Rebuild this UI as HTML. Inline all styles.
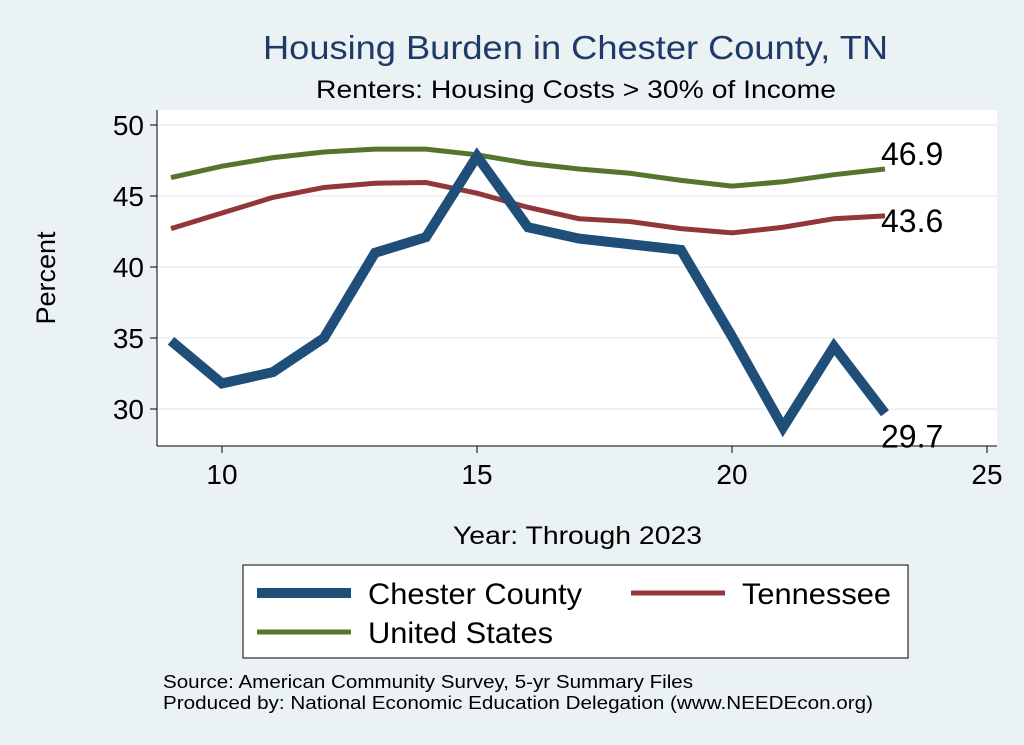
<!DOCTYPE html>
<html><head><meta charset="utf-8"><style>
body{margin:0;background:#eaf2f3;font-family:"Liberation Sans",sans-serif;}
svg{display:block}
</style></head><body>
<svg width="1024" height="745" xmlns="http://www.w3.org/2000/svg">
<rect x="0" y="0" width="1024" height="745" fill="#eaf2f3"/>
<text x="263" y="59" font-size="33" fill="#1f3a68" textLength="625" lengthAdjust="spacingAndGlyphs">Housing Burden in Chester County, TN</text>
<text x="316" y="98" font-size="25" fill="#000" textLength="520" lengthAdjust="spacingAndGlyphs">Renters: Housing Costs &gt; 30% of Income</text>
<rect x="157" y="110" width="840" height="336" fill="#fff"/>
<g id="grid"></g>
<line x1="157" y1="110" x2="157" y2="446" stroke="#000" stroke-width="1"/>
<line x1="157" y1="446" x2="997" y2="446" stroke="#000" stroke-width="1"/>
<g id="yticks"></g>
<g id="xticks"></g>
<g id="series"></g>
<text x="55" y="278" font-size="27" text-anchor="middle" transform="rotate(-90 55 278)">Percent</text>
<text x="453" y="544" font-size="25" textLength="249" lengthAdjust="spacingAndGlyphs">Year: Through 2023</text>
<g>
<rect x="243" y="565" width="665" height="93" fill="#fff" stroke="#000" stroke-width="1"/>
<line x1="257" y1="593" x2="351" y2="593" stroke="#1f4e79" stroke-width="10"/>
<text x="368" y="604" font-size="30" textLength="214" lengthAdjust="spacingAndGlyphs">Chester County</text>
<line x1="631" y1="593" x2="725" y2="593" stroke="#903739" stroke-width="5"/>
<text x="742" y="604" font-size="30" textLength="149" lengthAdjust="spacingAndGlyphs">Tennessee</text>
<line x1="257" y1="632" x2="351" y2="632" stroke="#55752f" stroke-width="5"/>
<text x="368" y="643" font-size="30" textLength="185" lengthAdjust="spacingAndGlyphs">United States</text>
</g>
<text x="163" y="688" font-size="18" textLength="530" lengthAdjust="spacingAndGlyphs">Source: American Community Survey, 5-yr Summary Files</text>
<text x="163" y="709" font-size="18" textLength="710" lengthAdjust="spacingAndGlyphs">Produced by: National Economic Education Delegation (www.NEEDEcon.org)</text>
</svg>
<script>
const years=[9,10,11,12,13,14,15,16,17,18,19,20,21,22,23];
const chester=[34.8,31.8,32.6,35.0,41.0,42.1,47.8,42.8,42.0,41.6,41.2,35.1,28.7,34.4,29.7];
const tennessee=[42.7,43.8,44.9,45.6,45.9,45.95,45.2,44.2,43.4,43.2,42.7,42.4,42.8,43.4,43.6];
const unitedStates=[46.3,47.1,47.7,48.1,48.3,48.3,47.9,47.3,46.9,46.6,46.1,45.7,46.0,46.5,46.9];
const xTicks=[10,15,20,25];
const yTicks=[30,35,40,45,50];
const NS='http://www.w3.org/2000/svg';
const xs=v=>222+(v-10)*51;
const ys=v=>125+(50-v)*14.2;
function mk(tag,attrs,parent){const e=document.createElementNS(NS,tag);for(const k in attrs)e.setAttribute(k,attrs[k]);parent.appendChild(e);return e;}
const grid=document.getElementById('grid'),yt=document.getElementById('yticks'),xt=document.getElementById('xticks'),ser=document.getElementById('series');
yTicks.forEach(v=>{
 const g=mk('line',{x1:157,x2:997,y1:ys(v),y2:ys(v),stroke:'#e8eef0','stroke-width':1.5},grid);
 
 
 const t=mk('line',{x1:150,x2:157,y1:ys(v),y2:ys(v),stroke:'#000'},yt);
 
 
 const l=mk('text',{x:144,y:ys(v)+10,'font-size':28,'text-anchor':'end'},yt);l.textContent=v;
 
 
});
xTicks.forEach(v=>{
 const t=mk('line',{x1:xs(v),x2:xs(v),y1:446,y2:453,stroke:'#000'},xt);
 
 
 const l=mk('text',{x:xs(v),y:484,'font-size':28,'text-anchor':'middle'},xt);l.textContent=v;
 
 
});
function line(vals,color,w,name,dy){
 const d=vals.map((v,i)=>(i?'L':'M')+xs(years[i])+','+ys(v)).join(' ');
 const p=mk('path',{d:d,fill:'none',stroke:color,'stroke-width':w,'stroke-linejoin':'miter'},ser);
 
 
 const last=vals[vals.length-1];
 const t=mk('text',{x:xs(years[years.length-1])-4,y:ys(last)+dy,'font-size':32},ser);t.textContent=last.toFixed(1);
 
 
}
line(unitedStates,'#55752f',5,'united-states',-4);
line(tennessee,'#903739',5,'tennessee',16);
line(chester,'#1f4e79',10,'chester-county',34);
</script>
</body></html>
